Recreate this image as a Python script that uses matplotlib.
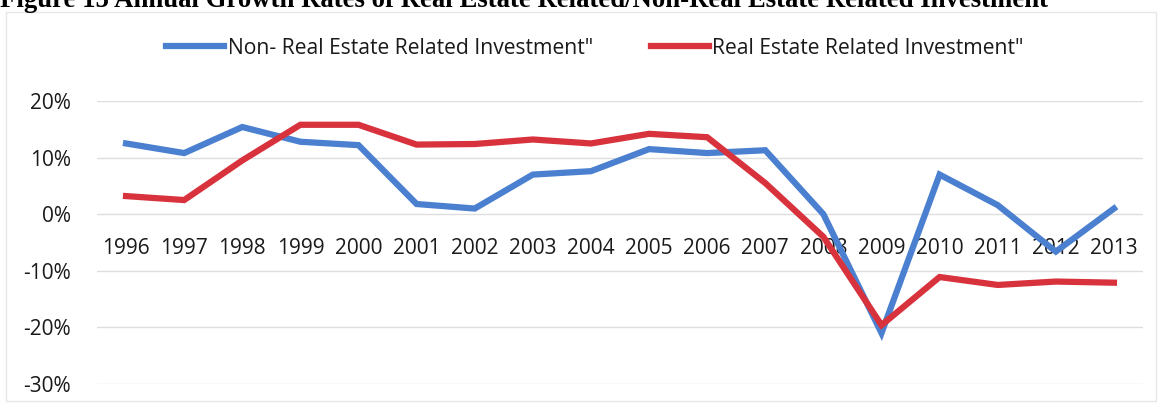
"""Annual growth rates of real estate related / non-real estate related investment."""
import matplotlib
matplotlib.use("Agg")
import matplotlib.pyplot as plt
from matplotlib.ticker import FuncFormatter
from matplotlib.patches import Rectangle

years = [str(y) for y in range(1996, 2014)]
non_real_estate = [12.5, 10.8, 15.4, 12.8, 12.2, 1.8, 1.0, 7.0, 7.6, 11.5,
                   10.8, 11.3, 0.0, -21.0, 7.0, 1.6, -6.6, 1.0]
real_estate = [3.2, 2.5, 9.5, 15.8, 15.8, 12.3, 12.4, 13.2, 12.5, 14.2,
               13.6, 5.5, -4.0, -19.6, -11.1, -12.5, -11.9, -12.1]
y_ticks = [-30, -20, -10, 0, 10, 20]

BLUE = "#4a80cf"
RED = "#d8323d"

fig = plt.figure(figsize=(11.58, 4.04), dpi=100)
ax = fig.add_axes([97 / 1158, 20 / 404, 1046 / 1158, 283 / 404])

x = range(len(years))
ax.plot(x, non_real_estate, color=BLUE, linewidth=4.5, solid_joinstyle="miter",
        label="Non- Real Estate Related Investment\"")
ax.plot(x, real_estate, color=RED, linewidth=4.5, solid_joinstyle="miter",
        label="Real Estate Related Investment\"")

ax.set_xlim(-0.5, len(years) - 0.5)
ax.set_ylim(-30, 20)
ax.set_yticks(y_ticks)
ax.yaxis.set_major_formatter(FuncFormatter(lambda v, _: f"{v:.0f}%"))
ax.set_xticks(list(x))
ax.set_xticklabels(years)
ax.grid(axis="y", color="#dedede", linewidth=1)
ax.set_axisbelow(True)

for side in ["top", "right", "left", "bottom"]:
    ax.spines[side].set_visible(False)
ax.spines["bottom"].set_position(("data", 0))
ax.tick_params(axis="x", length=0, pad=17, labelsize=15)
ax.tick_params(axis="y", length=0, pad=19, labelsize=15)
for lbl in ax.get_xticklabels() + ax.get_yticklabels():
    lbl.set_fontfamily("Open Sans")
    lbl.set_color("#1a1a1a")

leg = ax.legend(loc="center", bbox_to_anchor=(595 / 1158, 1 - 48 / 404),
                bbox_transform=fig.transFigure, ncol=2, frameon=False,
                handlelength=2.75, handletextpad=0.15, columnspacing=2.75,
                prop={"family": "Open Sans", "size": 15.2})
for txt in leg.get_texts():
    txt.set_color("#1a1a1a")

# faint chart border
fig.patches.append(Rectangle((6 / 1158, 3 / 404), 1150 / 1158, 389 / 404,
                             transform=fig.transFigure, fill=False,
                             edgecolor="#e6e6e6", linewidth=1))

# the caption is cropped at the top edge in the source image
fig.text(0.0, 1 - 7 / 404,
         "Figure 15 Annual Growth Rates of Real Estate Related/Non-Real Estate Related Investment",
         family="Liberation Serif", weight="bold", size=19.3, va="baseline", ha="left")

fig.savefig("out.png", dpi=100)
